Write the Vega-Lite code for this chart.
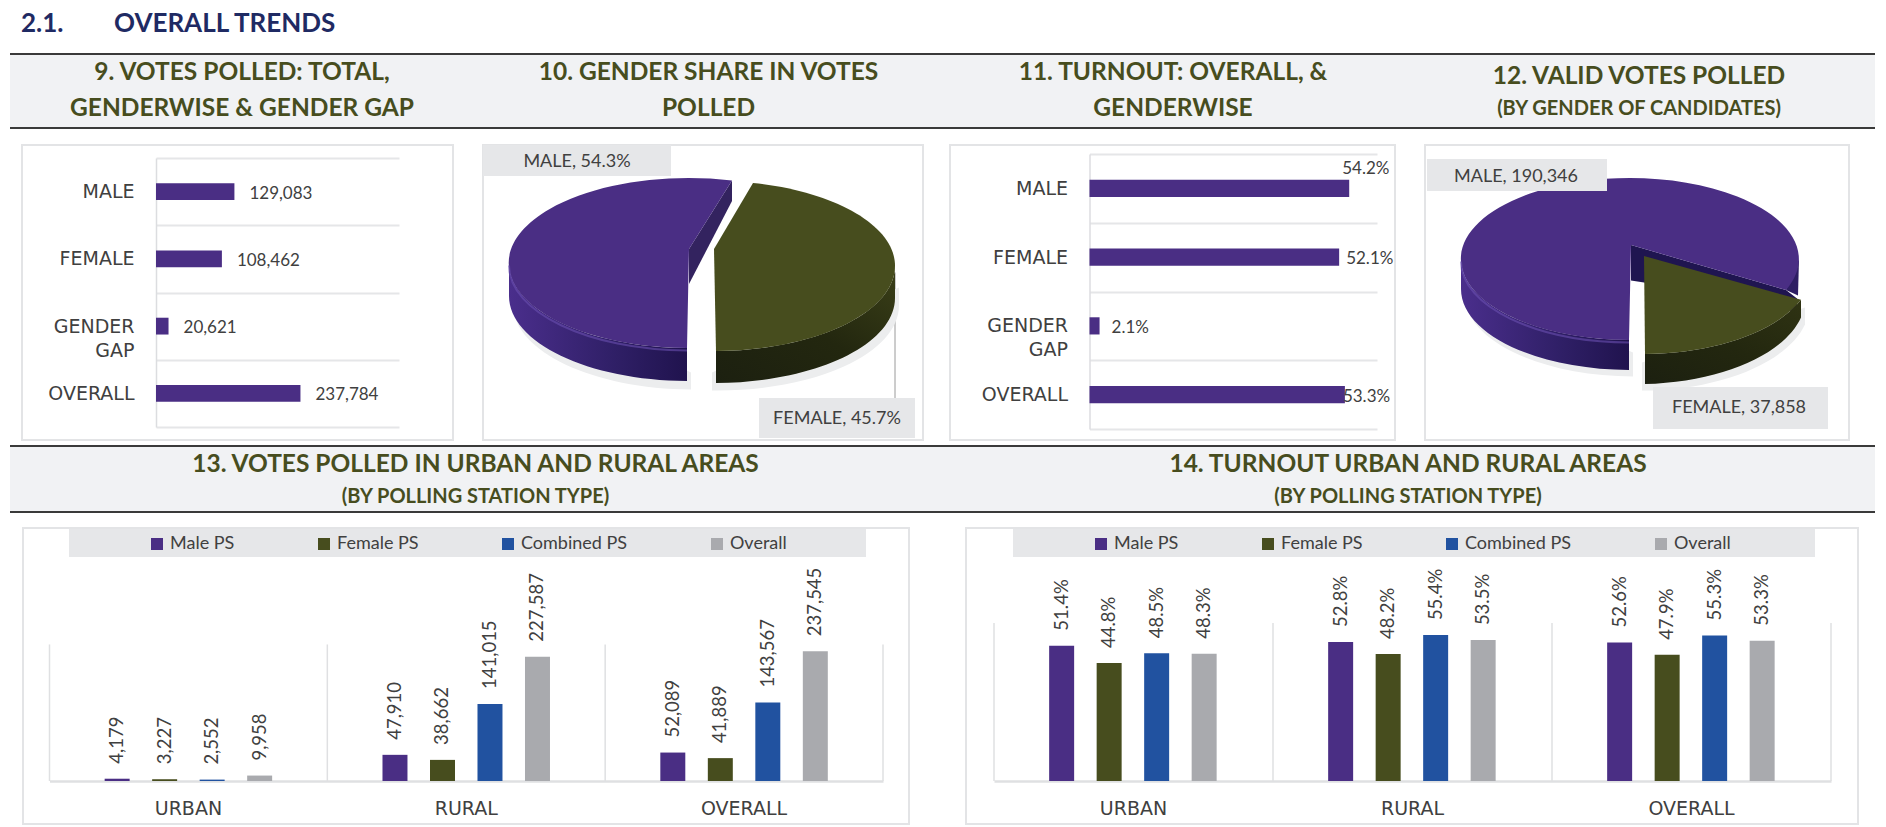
{
"$schema":"https://vega.github.io/schema/vega-lite/v6.json",
"background":"white",
"padding":{"left":9,"top":0,"right":12,"bottom":0},
"spacing":0,
"config":{"concat":{"spacing":0},"view":{"stroke":null}},
"resolve":{"scale":{"color":"independent"},"legend":{"color":"independent"}},
"vconcat":[
  {"width":1865,"height":53,"data":{"values":[{"part":"2.1."},{"part":"OVERALL TRENDS"}]},
   "mark":{"type":"text","font":"Lato","fontWeight":"bold","fontSize":26,"color":"#1f2a63","align":"left","baseline":"middle"},
   "encoding":{"x":{"field":"part","type":"nominal","scale":{"type":"point","padding":0,"domain":["2.1.","OVERALL TRENDS"],"range":[11,104]},"axis":null},"y":{"value":24},"text":{"field":"part"}}},
  {"bounds":"flush","spacing":0,"hconcat":[
   {"width":464,"height":76,"view":{"fill":"#f1f2f4","stroke":null},"data":{"values":[{"line":1,"level":"main","t":"9. VOTES POLLED: TOTAL,"},{"line":2,"level":"main","t":"GENDERWISE & GENDER GAP"}]},
    "layer":[
     {"mark":{"type":"text","font":"Lato","fontWeight":"bold","color":"#474d1e","baseline":"middle"},"encoding":{"y":{"field":"line","type":"ordinal","scale":{"type":"point","padding":0,"range":[20,56]},"axis":null},"text":{"field":"t"},"size":{"field":"level","type":"nominal","scale":{"domain":["main","sub"],"range":[24.5,20]},"legend":null}}},
     {"mark":{"type":"rule","color":"#3a3a3a","strokeWidth":2},"encoding":{"y":{"value":1}}},
     {"mark":{"type":"rule","color":"#3a3a3a","strokeWidth":2},"encoding":{"y":{"value":75}}}]},
   {"width":469,"height":76,"view":{"fill":"#f1f2f4","stroke":null},"data":{"values":[{"line":1,"level":"main","t":"10. GENDER SHARE IN VOTES"},{"line":2,"level":"main","t":"POLLED"}]},
    "layer":[
     {"mark":{"type":"text","font":"Lato","fontWeight":"bold","color":"#474d1e","baseline":"middle"},"encoding":{"y":{"field":"line","type":"ordinal","scale":{"type":"point","padding":0,"range":[20,56]},"axis":null},"text":{"field":"t"},"size":{"field":"level","type":"nominal","scale":{"domain":["main","sub"],"range":[24.5,20]},"legend":null}}},
     {"mark":{"type":"rule","color":"#3a3a3a","strokeWidth":2},"encoding":{"y":{"value":1}}},
     {"mark":{"type":"rule","color":"#3a3a3a","strokeWidth":2},"encoding":{"y":{"value":75}}}]},
   {"width":460,"height":76,"view":{"fill":"#f1f2f4","stroke":null},"data":{"values":[{"line":1,"level":"main","t":"11. TURNOUT: OVERALL, &"},{"line":2,"level":"main","t":"GENDERWISE"}]},
    "layer":[
     {"mark":{"type":"text","font":"Lato","fontWeight":"bold","color":"#474d1e","baseline":"middle"},"encoding":{"y":{"field":"line","type":"ordinal","scale":{"type":"point","padding":0,"range":[20,56]},"axis":null},"text":{"field":"t"},"size":{"field":"level","type":"nominal","scale":{"domain":["main","sub"],"range":[24.5,20]},"legend":null}}},
     {"mark":{"type":"rule","color":"#3a3a3a","strokeWidth":2},"encoding":{"y":{"value":1}}},
     {"mark":{"type":"rule","color":"#3a3a3a","strokeWidth":2},"encoding":{"y":{"value":75}}}]},
   {"width":472,"height":76,"view":{"fill":"#f1f2f4","stroke":null},"data":{"values":[{"line":1,"level":"main","t":"12. VALID VOTES POLLED"},{"line":2,"level":"sub","t":"(BY GENDER OF CANDIDATES)"}]},
    "layer":[
     {"mark":{"type":"text","font":"Lato","fontWeight":"bold","color":"#474d1e","baseline":"middle"},"encoding":{"y":{"field":"line","type":"ordinal","scale":{"type":"point","padding":0,"range":[24,56]},"axis":null},"text":{"field":"t"},"size":{"field":"level","type":"nominal","scale":{"domain":["main","sub"],"range":[24.5,20]},"legend":null}}},
     {"mark":{"type":"rule","color":"#3a3a3a","strokeWidth":2},"encoding":{"y":{"value":1}}},
     {"mark":{"type":"rule","color":"#3a3a3a","strokeWidth":2},"encoding":{"y":{"value":75}}}]}
  ]},
 {"width":1,"height":6,"data":{"values":[]},"mark":"rect"},
 {"bounds":"flush","spacing":0,"hconcat":[
  {"width":12,"height":1,"data":{"values":[]},"mark":"rect"},
   {"width":431,"height":295,"view":{"stroke":"#e3e4e6","strokeWidth":2},
    "data":{"values":[{"cat":"MALE","v":129083},{"cat":"FEMALE","v":108462},{"cat":"GENDER GAP","v":20621},{"cat":"OVERALL","v":237784}]},
    "encoding":{"y":{"field":"cat","type":"nominal","scale":{"domain":["MALE","FEMALE","GENDER GAP","OVERALL"],"range":[13,282],"padding":0},"axis":{"title":null,"offset":-134,"tickBand":"extent","grid":true,"gridColor":"#e5e6e8","gridWidth":2,"domainColor":"#dcdde0","domainWidth":1.5,"ticks":false,"labelFont":"DejaVu Sans","labelFontSize":19,"labelColor":"#404040","labelPadding":22,"labelLineHeight":24,"labelExpr":"datum.label==='GENDER GAP'?['GENDER','GAP']:datum.label"}},
      "x":{"field":"v","type":"quantitative","scale":{"domain":[0,400000],"range":[134,377]},"axis":null}},
    "layer":[
     {"mark":{"type":"bar","color":"#4a2e84","height":{"band":0.25}}},
     {"mark":{"type":"text","font":"Lato","fontSize":17,"color":"#404040","align":"left","baseline":"middle","dx":15,"dy":2},"encoding":{"text":{"field":"v","format":","}}}]},
   {"width":30,"height":1,"data":{"values":[]},"mark":"rect"},
   {"width":440,"height":295,"view":{"stroke":"#e3e4e6","strokeWidth":2},
    "data":{"values":[{"label":"MALE","share":54.3,"t":"MALE, 54.3%"},{"label":"FEMALE","share":45.7,"t":"FEMALE, 45.7%"}]},
    "layer":[
     {"transform":[{"filter":"datum.label==='FEMALE'"}],"mark":{"type":"point","shape":"M192,-20L192,105.5","size":4,"filled":false,"opacity":1,"stroke":"#9a9a9a","strokeWidth":1}},
     {"transform":[{"filter":"datum.label==='MALE'"}],"mark":{"type":"point","shape":"M-190,-5L-190,13A180,85,0,0,0,-12,97L-12,80Z","size":4,"filled":true,"opacity":1,"stroke":null,"fill":"#ecedee"}},
     {"transform":[{"filter":"datum.label==='FEMALE'"}],"mark":{"type":"point","shape":"M196,-5L196,13A181,85,0,0,1,9,98L9,80Z","size":4,"filled":true,"opacity":1,"stroke":null,"fill":"#ecedee"}},
     {"transform":[{"filter":"datum.label==='MALE'"}],"mark":{"type":"point","shape":"M-194,-29.5L-194,3.5A180,85,0,0,0,-16,88.5L-16,55.5A180,85,0,0,1,-194,-29.5Z","size":4,"filled":true,"opacity":1,"stroke":null,"fill":{"gradient":"linear","x1":0,"x2":1,"y1":0,"y2":0,"stops":[{"offset":0,"color":"#4a2e8c"},{"offset":0.6,"color":"#2f1f66"},{"offset":1,"color":"#20134e"}]}}},
     {"transform":[{"filter":"datum.label==='MALE'"}],"mark":{"type":"point","shape":"M29,-112L29,-91.5L-14,-8.5L-14,-43.5Z","size":4,"filled":true,"opacity":1,"stroke":null,"fill":"#33235f"}},
     {"transform":[{"filter":"datum.label==='MALE'"}],"mark":{"type":"point","shape":"M-14,-43.5L29,-112A180,85,0,1,0,-16,55.5Z","size":4,"filled":true,"opacity":1,"stroke":null,"fill":"#4a2e84"}},
     {"transform":[{"filter":"datum.label==='MALE'"}],"mark":{"type":"point","shape":"M-194,-27A180,85,0,0,0,-16,58","size":4,"filled":false,"opacity":0.6,"stroke":"#6a4fb0","strokeWidth":2}},
     {"transform":[{"filter":"datum.label==='FEMALE'"}],"mark":{"type":"point","shape":"M192,-26.5L192,5.5A181,85,0,0,1,13,90.5L13,58.5A181,85,0,0,0,192,-26.5Z","size":4,"filled":true,"opacity":1,"stroke":null,"fill":{"gradient":"linear","x1":1,"x2":0,"y1":0,"y2":1,"stops":[{"offset":0,"color":"#3b4018"},{"offset":0.5,"color":"#23270f"},{"offset":1,"color":"#1c2010"}]}}},
     {"transform":[{"filter":"datum.label==='FEMALE'"}],"mark":{"type":"point","shape":"M11,-43.5L50,-109.5A181,85,0,0,1,13,58.5Z","size":4,"filled":true,"opacity":1,"stroke":null,"fill":"#474d1e"}},
     {"transform":[{"filter":"datum.label==='MALE'"}],"mark":{"type":"point","shape":"M-220,-147.5H-32V-116.5H-220Z","size":4,"filled":true,"opacity":1,"stroke":null,"fill":"#e6e7e9"}},
     {"transform":[{"filter":"datum.label==='FEMALE'"}],"mark":{"type":"point","shape":"M56,105.5H212V145.5H56Z","size":4,"filled":true,"opacity":1,"stroke":null,"fill":"#e6e7e9"}},
     {"mark":{"type":"text","font":"Lato","fontSize":18,"color":"#404040","baseline":"middle"},"encoding":{"x":{"field":"label","type":"nominal","scale":{"type":"point","padding":0,"domain":["MALE","FEMALE"],"range":[94,354]},"axis":null},"y":{"field":"label","type":"nominal","scale":{"type":"point","padding":0,"domain":["MALE","FEMALE"],"range":[17,274]},"axis":null},"text":{"field":"t"}}}
    ]},
  {"width":27,"height":1,"data":{"values":[]},"mark":"rect"},
   {"width":445,"height":295,"view":{"stroke":"#e3e4e6","strokeWidth":2},
    "data":{"values":[{"cat":"MALE","v":54.2,"t":"54.2%"},{"cat":"FEMALE","v":52.1,"t":"52.1%"},{"cat":"GENDER GAP","v":2.1,"t":"2.1%"},{"cat":"OVERALL","v":53.3,"t":"53.3%"}]},
    "encoding":{"y":{"field":"cat","type":"nominal","scale":{"domain":["MALE","FEMALE","GENDER GAP","OVERALL"],"range":[9,284],"padding":0},"axis":{"title":null,"offset":-139.5,"tickBand":"extent","grid":true,"gridColor":"#e5e6e8","gridWidth":2,"domainColor":"#dcdde0","domainWidth":1.5,"ticks":false,"labelFont":"DejaVu Sans","labelFontSize":19,"labelColor":"#404040","labelPadding":22,"labelLineHeight":24,"labelExpr":"datum.label==='GENDER GAP'?['GENDER','GAP']:datum.label"}},
      "x":{"field":"v","type":"quantitative","scale":{"domain":[0,60],"range":[139.5,427]},"axis":null},
      "text":{"field":"t"}},
    "layer":[
     {"mark":{"type":"bar","color":"#4a2e84","height":{"band":0.25}}},
     {"transform":[{"filter":"datum.cat==='MALE'"}],"mark":{"type":"text","font":"Lato","fontSize":17,"color":"#404040","align":"left","baseline":"middle","dx":-7,"dy":-19}},
     {"transform":[{"filter":"datum.cat==='FEMALE'"}],"mark":{"type":"text","font":"Lato","fontSize":17,"color":"#404040","align":"left","baseline":"middle","dx":7,"dy":2}},
     {"transform":[{"filter":"datum.cat==='GENDER GAP'"}],"mark":{"type":"text","font":"Lato","fontSize":17,"color":"#404040","align":"left","baseline":"middle","dx":12,"dy":2}},
     {"transform":[{"filter":"datum.cat==='OVERALL'"}],"mark":{"type":"text","font":"Lato","fontSize":17,"color":"#404040","align":"left","baseline":"middle","dx":-2,"dy":2}}]},
   {"width":30,"height":1,"data":{"values":[]},"mark":"rect"},
   {"width":424,"height":295,"view":{"stroke":"#e3e4e6","strokeWidth":2},
    "data":{"values":[{"label":"MALE","votes":190346,"t":"MALE, 190,346"},{"label":"FEMALE","votes":37858,"t":"FEMALE, 37,858"}]},
    "layer":[
     {"transform":[{"filter":"datum.label==='MALE'"}],"mark":{"type":"point","shape":"M-172,-10L-172,5A169,81,0,0,0,-4,84L-4,60Z","size":4,"filled":true,"opacity":1,"stroke":null,"fill":"#ecedee"}},
     {"transform":[{"filter":"datum.label==='FEMALE'"}],"mark":{"type":"point","shape":"M168,15L168,32A169,86,0,0,1,5,98L5,70Z","size":4,"filled":true,"opacity":1,"stroke":null,"fill":"#ecedee"}},
     {"transform":[{"filter":"datum.label==='MALE'"}],"mark":{"type":"point","shape":"M-176,-33.5L-176,-3.5A169,81,0,0,0,-8,77.5L-8,47.5A169,81,0,0,1,-176,-33.5Z","size":4,"filled":true,"opacity":1,"stroke":null,"fill":{"gradient":"linear","x1":0,"x2":1,"y1":0,"y2":0,"stops":[{"offset":0,"color":"#4a2e8c"},{"offset":0.6,"color":"#2f1f66"},{"offset":1,"color":"#20134e"}]}}},
     {"transform":[{"filter":"datum.label==='MALE'"}],"mark":{"type":"point","shape":"M-6,-47.5L149,-2.5L160,6L160,20L7,-10L-6,-12Z","size":4,"filled":true,"opacity":1,"stroke":null,"fill":"#1f1550"}},
     {"transform":[{"filter":"datum.label==='MALE'"}],"mark":{"type":"point","shape":"M162,-33.5L161,3L149,-2.5Z","size":4,"filled":true,"opacity":1,"stroke":null,"fill":"#2e1e63"}},
     {"transform":[{"filter":"datum.label==='MALE'"}],"mark":{"type":"point","shape":"M-6,-47.5L149,-2.5A169,81,0,1,0,-8,47.5Z","size":4,"filled":true,"opacity":1,"stroke":null,"fill":"#4a2e84"}},
     {"transform":[{"filter":"datum.label==='MALE'"}],"mark":{"type":"point","shape":"M-176,-31A169,81,0,0,0,-8,50","size":4,"filled":false,"opacity":0.6,"stroke":"#6a4fb0","strokeWidth":2}},
     {"transform":[{"filter":"datum.label==='FEMALE'"}],"mark":{"type":"point","shape":"M164,7.3L164,25A169,86,0,0,1,8,91.5L8,61.5A169,86,0,0,0,164,7.3Z","size":4,"filled":true,"opacity":1,"stroke":null,"fill":{"gradient":"linear","x1":1,"x2":0,"y1":0,"y2":1,"stops":[{"offset":0,"color":"#2f3313"},{"offset":0.5,"color":"#23270f"},{"offset":1,"color":"#1c2010"}]}}},
     {"transform":[{"filter":"datum.label==='FEMALE'"}],"mark":{"type":"point","shape":"M7,-36.5L164,7.3A169,86,0,0,1,8,61.5Z","size":4,"filled":true,"opacity":1,"stroke":null,"fill":"#474d1e"}},
     {"transform":[{"filter":"datum.label==='MALE'"}],"mark":{"type":"point","shape":"M-210,-133.5H-30V-101.5H-210Z","size":4,"filled":true,"opacity":1,"stroke":null,"fill":"#e6e7e9"}},
     {"transform":[{"filter":"datum.label==='FEMALE'"}],"mark":{"type":"point","shape":"M16,94.5H191V136.5H16Z","size":4,"filled":true,"opacity":1,"stroke":null,"fill":"#e6e7e9"}},
     {"mark":{"type":"text","font":"Lato","fontSize":18,"color":"#404040","baseline":"middle"},"encoding":{"x":{"field":"label","type":"nominal","scale":{"type":"point","padding":0,"domain":["MALE","FEMALE"],"range":[91,314]},"axis":null},"y":{"field":"label","type":"nominal","scale":{"type":"point","padding":0,"domain":["MALE","FEMALE"],"range":[32,263]},"axis":null},"text":{"field":"t"}}}
    ]}
 ]},
 {"width":1,"height":4,"data":{"values":[]},"mark":"rect"},
 {"bounds":"flush","spacing":0,"hconcat":[
  {"width":931,"height":68,"view":{"fill":"#f1f2f4","stroke":null},"data":{"values":[{"line":1,"level":"main","t":"13. VOTES POLLED IN URBAN AND RURAL AREAS"},{"line":2,"level":"sub","t":"(BY POLLING STATION TYPE)"}]},
   "layer":[
    {"mark":{"type":"text","font":"Lato","fontWeight":"bold","color":"#474d1e","baseline":"middle"},"encoding":{"y":{"field":"line","type":"ordinal","scale":{"type":"point","padding":0,"range":[20,52]},"axis":null},"text":{"field":"t"},"size":{"field":"level","type":"nominal","scale":{"domain":["main","sub"],"range":[24.5,20]},"legend":null}}},
    {"mark":{"type":"rule","color":"#3a3a3a","strokeWidth":2},"encoding":{"y":{"value":1}}},
    {"mark":{"type":"rule","color":"#3a3a3a","strokeWidth":2},"encoding":{"y":{"value":67}}}]},
  {"width":934,"height":68,"view":{"fill":"#f1f2f4","stroke":null},"data":{"values":[{"line":1,"level":"main","t":"14. TURNOUT URBAN AND RURAL AREAS"},{"line":2,"level":"sub","t":"(BY POLLING STATION TYPE)"}]},
   "layer":[
    {"mark":{"type":"text","font":"Lato","fontWeight":"bold","color":"#474d1e","baseline":"middle"},"encoding":{"y":{"field":"line","type":"ordinal","scale":{"type":"point","padding":0,"range":[20,52]},"axis":null},"text":{"field":"t"},"size":{"field":"level","type":"nominal","scale":{"domain":["main","sub"],"range":[24.5,20]},"legend":null}}},
    {"mark":{"type":"rule","color":"#3a3a3a","strokeWidth":2},"encoding":{"y":{"value":1}}},
    {"mark":{"type":"rule","color":"#3a3a3a","strokeWidth":2},"encoding":{"y":{"value":67}}}]}
 ]},
 {"width":1,"height":13.5,"data":{"values":[]},"mark":"rect"},
 {"bounds":"flush","spacing":0,"resolve":{"scale":{"color":"independent"},"legend":{"color":"independent"}},"hconcat":[
  {"width":13,"height":1,"data":{"values":[]},"mark":"rect"},
  {"width":886,"height":296,"view":{"stroke":"#e3e4e6","strokeWidth":2},
   "data":{"values":[
    {"area":"URBAN","ps":"Male PS","v":4179},{"area":"URBAN","ps":"Female PS","v":3227},{"area":"URBAN","ps":"Combined PS","v":2552},{"area":"URBAN","ps":"Overall","v":9958},
    {"area":"RURAL","ps":"Male PS","v":47910},{"area":"RURAL","ps":"Female PS","v":38662},{"area":"RURAL","ps":"Combined PS","v":141015},{"area":"RURAL","ps":"Overall","v":227587},
    {"area":"OVERALL","ps":"Male PS","v":52089},{"area":"OVERALL","ps":"Female PS","v":41889},{"area":"OVERALL","ps":"Combined PS","v":143567},{"area":"OVERALL","ps":"Overall","v":237545}]},
   "layer":[
    {"mark":{"type":"point","shape":"M-397,-147H400V-119H-397Z","size":4,"filled":true,"opacity":1,"stroke":null,"fill":"#e6e7e9"}},
    {"mark":{"type":"bar"},"encoding":{
      "x":{"field":"area","type":"nominal","scale":{"domain":["URBAN","RURAL","OVERALL"],"range":[26.5,860],"padding":0},"axis":{"title":null,"orient":"bottom","offset":-43,"grid":false,"domainColor":"#dfe0e2","domainWidth":2.5,"ticks":false,"labelAngle":0,"labelFont":"DejaVu Sans","labelFontSize":19,"labelColor":"#404040","labelPadding":18}},
      "xOffset":{"field":"ps","type":"nominal","scale":{"domain":["Male PS","Female PS","Combined PS","Overall"],"range":[7.65,270.15],"paddingInner":0.474,"paddingOuter":1}},
      "y":{"field":"v","type":"quantitative","scale":{"domain":[0,250000],"range":[253,111]},"axis":null},
      "color":{"field":"ps","type":"nominal","scale":{"domain":["Male PS","Female PS","Combined PS","Overall"],"range":["#4a2e84","#474d1e","#2152a0","#a9aaae"]},"legend":{"title":null,"orient":"none","legendX":125,"legendY":7,"direction":"horizontal","columns":4,"gridAlign":"each","columnPadding":80,"symbolType":"square","symbolSize":144,"symbolStrokeWidth":0,"labelFont":"Lato","labelFontSize":18,"labelColor":"#404040","labelOffset":4}}}},
    {"transform":[{"filter":"datum.ps==='Male PS'"}],"mark":{"type":"rule","color":"#dfe0e2","strokeWidth":1.5},"encoding":{"x":{"field":"area","type":"nominal","bandPosition":0},"y":{"datum":0},"y2":{"datum":250000}}},
    {"transform":[{"filter":"datum.ps==='Male PS' && datum.area==='OVERALL'"}],"mark":{"type":"rule","color":"#dfe0e2","strokeWidth":1.5},"encoding":{"x":{"field":"area","type":"nominal","bandPosition":1},"y":{"datum":0},"y2":{"datum":250000}}},
    {"mark":{"type":"text","font":"Lato","fontSize":18.5,"color":"#404040","angle":270,"align":"left","baseline":"middle","dx":15},"encoding":{
      "x":{"field":"area","type":"nominal"},
      "xOffset":{"field":"ps","type":"nominal"},
      "y":{"field":"v","type":"quantitative"},
      "text":{"field":"v","format":","}}}
   ]},
  {"width":57,"height":1,"data":{"values":[]},"mark":"rect"},
  {"width":892,"height":296,"view":{"stroke":"#e3e4e6","strokeWidth":2},
   "data":{"values":[
    {"area":"URBAN","ps":"Male PS","v":51.4,"t":"51.4%"},{"area":"URBAN","ps":"Female PS","v":44.8,"t":"44.8%"},{"area":"URBAN","ps":"Combined PS","v":48.5,"t":"48.5%"},{"area":"URBAN","ps":"Overall","v":48.3,"t":"48.3%"},
    {"area":"RURAL","ps":"Male PS","v":52.8,"t":"52.8%"},{"area":"RURAL","ps":"Female PS","v":48.2,"t":"48.2%"},{"area":"RURAL","ps":"Combined PS","v":55.4,"t":"55.4%"},{"area":"RURAL","ps":"Overall","v":53.5,"t":"53.5%"},
    {"area":"OVERALL","ps":"Male PS","v":52.6,"t":"52.6%"},{"area":"OVERALL","ps":"Female PS","v":47.9,"t":"47.9%"},{"area":"OVERALL","ps":"Combined PS","v":55.3,"t":"55.3%"},{"area":"OVERALL","ps":"Overall","v":53.3,"t":"53.3%"}]},
   "layer":[
    {"mark":{"type":"point","shape":"M-399,-147H403V-119H-399Z","size":4,"filled":true,"opacity":1,"stroke":null,"fill":"#e6e7e9"}},
    {"mark":{"type":"bar"},"encoding":{
      "x":{"field":"area","type":"nominal","scale":{"domain":["URBAN","RURAL","OVERALL"],"range":[28,865],"padding":0},"axis":{"title":null,"orient":"bottom","offset":-43,"grid":false,"domainColor":"#dfe0e2","domainWidth":2.5,"ticks":false,"labelAngle":0,"labelFont":"DejaVu Sans","labelFontSize":19,"labelColor":"#404040","labelPadding":18}},
      "xOffset":{"field":"ps","type":"nominal","scale":{"domain":["Male PS","Female PS","Combined PS","Overall"],"range":[7.75,271.25],"paddingInner":0.476,"paddingOuter":1}},
      "y":{"field":"v","type":"quantitative","scale":{"domain":[0,60],"range":[253,95]},"axis":null},
      "color":{"field":"ps","type":"nominal","scale":{"domain":["Male PS","Female PS","Combined PS","Overall"],"range":["#4a2e84","#474d1e","#2152a0","#a9aaae"]},"legend":{"title":null,"orient":"none","legendX":126,"legendY":7,"direction":"horizontal","columns":4,"gridAlign":"each","columnPadding":80,"symbolType":"square","symbolSize":144,"symbolStrokeWidth":0,"labelFont":"Lato","labelFontSize":18,"labelColor":"#404040","labelOffset":4}}}},
    {"transform":[{"filter":"datum.ps==='Male PS'"}],"mark":{"type":"rule","color":"#dfe0e2","strokeWidth":1.5},"encoding":{"x":{"field":"area","type":"nominal","bandPosition":0},"y":{"datum":0},"y2":{"datum":60}}},
    {"transform":[{"filter":"datum.ps==='Male PS' && datum.area==='OVERALL'"}],"mark":{"type":"rule","color":"#dfe0e2","strokeWidth":1.5},"encoding":{"x":{"field":"area","type":"nominal","bandPosition":1},"y":{"datum":0},"y2":{"datum":60}}},
    {"mark":{"type":"text","font":"Lato","fontSize":18.5,"color":"#404040","angle":270,"align":"left","baseline":"middle","dx":15},"encoding":{
      "x":{"field":"area","type":"nominal"},
      "xOffset":{"field":"ps","type":"nominal"},
      "y":{"field":"v","type":"quantitative"},
      "text":{"field":"t"}}}
   ]}
 ]}
]
}
